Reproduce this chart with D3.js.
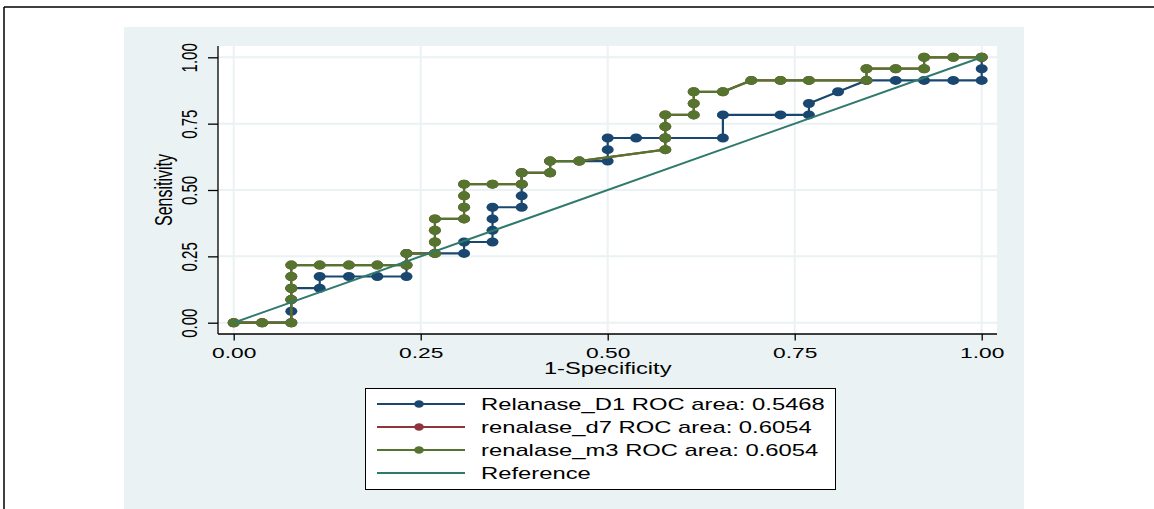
<!DOCTYPE html>
<html>
<head>
<meta charset="utf-8">
<script src="https://cdn.jsdelivr.net/npm/d3@7"></script>
<style>
  html, body { margin: 0; padding: 0; background: #fff; }
  svg { display: block; }
  text { font-family: "Liberation Sans", Arial, Helvetica, sans-serif; fill: #000; }
</style>
</head>
<body>
<svg id="chart" width="1154" height="509"></svg>
<script>
// ROC points, [1-specificity, sensitivity]
const d1Points = [
  [0, 0], [0.038, 0], [0.077, 0], [0.077, 0.043], [0.077, 0.087], [0.077, 0.130],
  [0.115, 0.130], [0.115, 0.174], [0.154, 0.174], [0.192, 0.174], [0.231, 0.174],
  [0.231, 0.217], [0.231, 0.261], [0.269, 0.261], [0.308, 0.261], [0.308, 0.304],
  [0.346, 0.304], [0.346, 0.348], [0.346, 0.391], [0.346, 0.435], [0.385, 0.435],
  [0.385, 0.478], [0.385, 0.522], [0.385, 0.565], [0.423, 0.565], [0.423, 0.609],
  [0.462, 0.609], [0.500, 0.609], [0.500, 0.652], [0.500, 0.696], [0.538, 0.696],
  [0.577, 0.696], [0.654, 0.696], [0.654, 0.783], [0.731, 0.783], [0.769, 0.783],
  [0.769, 0.826], [0.808, 0.870], [0.846, 0.913], [0.885, 0.913], [0.923, 0.913],
  [0.962, 0.913], [1, 0.913], [1, 0.957], [1, 1]
];
const m3Points = [
  [0, 0], [0.038, 0], [0.077, 0], [0.077, 0.087], [0.077, 0.130], [0.077, 0.174],
  [0.077, 0.217], [0.115, 0.217], [0.154, 0.217], [0.192, 0.217], [0.231, 0.217],
  [0.231, 0.261], [0.269, 0.261], [0.269, 0.304], [0.269, 0.348], [0.269, 0.391],
  [0.308, 0.391], [0.308, 0.435], [0.308, 0.478], [0.308, 0.522], [0.346, 0.522],
  [0.385, 0.522], [0.385, 0.565], [0.423, 0.565], [0.423, 0.609], [0.462, 0.609],
  [0.577, 0.652], [0.577, 0.696], [0.577, 0.739], [0.577, 0.783], [0.615, 0.783],
  [0.615, 0.826], [0.615, 0.870], [0.654, 0.870], [0.692, 0.913], [0.731, 0.913],
  [0.769, 0.913], [0.846, 0.913], [0.846, 0.957], [0.885, 0.957], [0.923, 0.957],
  [0.923, 1], [0.962, 1], [1, 1]
];
// d7 has the same curve as m3 (same area), so it sits hidden underneath
const d7Points = m3Points.slice();
const refPoints = [[0, 0], [1, 1]];

const seriesNames = ["Relanase_D1 ROC area: 0.5468", "renalase_d7 ROC area: 0.6054", "renalase_m3 ROC area: 0.6054", "Reference"];
const seriesColors = ["#1a476f", "#90353b", "#55752f", "#2f7a6c"];
const tickValues = [0, 0.25, 0.5, 0.75, 1];

const svg = d3.select("#chart");
const SX = 1.5; // the picture is stretched sideways

// outer frame + stata graph region
svg.append("line").attr("x1", 4).attr("y1", 7).attr("x2", 1154).attr("y2", 7)
  .attr("stroke", "#000").attr("stroke-width", 1.5);
svg.append("line").attr("x1", 4).attr("y1", 7).attr("x2", 4).attr("y2", 509)
  .attr("stroke", "#000").attr("stroke-width", 1.5);
svg.append("rect").attr("x", 124).attr("y", 27).attr("width", 900).attr("height", 490)
  .attr("fill", "#eaf2f3");

const plot = { left: 218, right: 997, top: 46, bottom: 334 };
svg.append("rect").attr("x", plot.left).attr("y", plot.top)
  .attr("width", plot.right - plot.left).attr("height", plot.bottom - plot.top)
  .attr("fill", "#fff");

const x = d3.scaleLinear().domain([0, 1]).range([233.7, 981.7]);
const y = d3.scaleLinear().domain([0, 1]).range([322.7, 57.3]);

// grid
const grid = svg.append("g").attr("stroke", "#eaf2f3").attr("stroke-width", 2);
grid.selectAll(".gy").data(tickValues).join("line")
  .attr("x1", plot.left).attr("x2", plot.right)
  .attr("y1", d => y(d)).attr("y2", d => y(d));
grid.selectAll(".gx").data(tickValues).join("line")
  .attr("y1", plot.top).attr("y2", plot.bottom)
  .attr("x1", d => x(d)).attr("x2", d => x(d));

// axes
const fmt = d3.format(".2f");
const yAxis = svg.append("g").attr("transform", `translate(${plot.left},0)`)
  .call(d3.axisLeft(y).tickValues(tickValues).tickFormat(fmt).tickSize(10).tickSizeOuter(0));
yAxis.select(".domain").remove();
yAxis.selectAll(".tick line").attr("stroke", "#000").attr("stroke-width", 1.3);
yAxis.selectAll(".tick text")
  .attr("x", null).attr("dy", null)
  .attr("text-anchor", "middle")
  .attr("font-size", 15)
  .attr("transform", `translate(-21,0) scale(${SX},1) rotate(-90)`);

const xAxis = svg.append("g").attr("transform", `translate(0,${plot.bottom})`)
  .call(d3.axisBottom(x).tickValues(tickValues).tickFormat(fmt).tickSize(6.5).tickSizeOuter(0));
xAxis.select(".domain").remove();
xAxis.selectAll(".tick line").attr("stroke", "#000").attr("stroke-width", 1.3);
xAxis.selectAll(".tick text")
  .attr("y", 24).attr("dy", null)
  .attr("font-size", 15)
  .attr("transform", `scale(1.52,1)`);

svg.append("line").attr("x1", plot.left).attr("x2", plot.left)
  .attr("y1", plot.top).attr("y2", plot.bottom)
  .attr("stroke", "#000").attr("stroke-width", 1.3);
svg.append("line").attr("x1", plot.left).attr("x2", plot.right)
  .attr("y1", plot.bottom).attr("y2", plot.bottom)
  .attr("stroke", "#000").attr("stroke-width", 1.3);

// axis titles
svg.append("text").attr("text-anchor", "middle").attr("font-size", 16)
  .attr("transform", `translate(172,190) scale(1.48,1) rotate(-90)`)
  .text("Sensitivity");
svg.append("text").attr("text-anchor", "middle").attr("font-size", 16)
  .attr("transform", `translate(${x(0.5)},374) scale(1.48,1)`)
  .text("1-Specificity");

// curves
const line = d3.line().x(d => x(d[0])).y(d => y(d[1]));
const curves = [d1Points, d7Points, m3Points];
curves.forEach((pts, i) => {
  const g = svg.append("g");
  g.append("path").datum(pts).attr("d", line)
    .attr("fill", "none").attr("stroke", seriesColors[i]).attr("stroke-width", 2.2);
  g.selectAll("ellipse").data(pts).join("ellipse")
    .attr("cx", d => x(d[0])).attr("cy", d => y(d[1]))
    .attr("rx", 6).attr("ry", 4.5)
    .attr("fill", seriesColors[i]);
});
svg.append("path").datum(refPoints).attr("d", line)
  .attr("fill", "none").attr("stroke", seriesColors[3]).attr("stroke-width", 2);

// legend
const legend = svg.append("g");
legend.append("rect").attr("x", 365.5).attr("y", 388.5).attr("width", 470).attr("height", 101)
  .attr("fill", "#fff").attr("stroke", "#000").attr("stroke-width", 1);
const rowY = [404, 427, 450, 473];
seriesNames.forEach((name, i) => {
  const ry = rowY[i];
  legend.append("line").attr("x1", 377).attr("x2", 465).attr("y1", ry).attr("y2", ry)
    .attr("stroke", seriesColors[i]).attr("stroke-width", 2);
  if (i < 3) {
    legend.append("ellipse").attr("cx", 419).attr("cy", ry).attr("rx", 4.8).attr("ry", 3.8)
      .attr("fill", seriesColors[i]);
  }
  legend.append("text").attr("font-size", 17)
    .attr("transform", `translate(481,${ry + 6}) scale(1.4,1)`)
    .text(name);
});
</script>
</body>
</html>
